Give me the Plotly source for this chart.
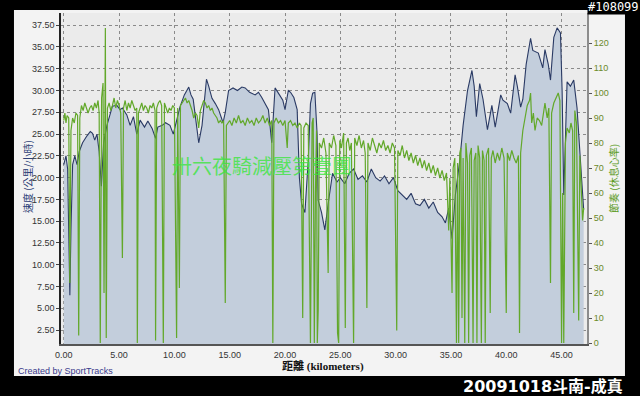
import plotly.graph_objects as go

# ---- Speed (km/h) vs distance (km) ----
speed_km = [0.0,0.2,0.35,0.45,0.55,0.65,0.8,1.0,1.2,1.4,1.7,2.1,2.4,2.6,2.8,3.0,3.2,3.4,3.6,3.9,
            4.2,4.4,4.8,5.1,5.3,5.7,6.0,6.3,6.6,6.9,7.3,7.6,8.0,8.3,8.5,8.9,9.2,9.6,9.9,10.2,
            10.5,10.9,11.3,11.5,11.7,11.9,12.2,12.5,12.9,13.1,13.4,13.7,14.0,14.4,14.6,14.9,15.3,15.7,16.1,16.4,
            16.8,17.3,17.6,17.9,18.2,18.5,18.8,19.1,19.5,19.8,20.0,20.3,20.5,20.8,21.1,21.3,21.5,21.8,22.1,22.3,
            22.5,22.7,22.9,23.0,23.3,23.6,23.9,24.3,24.7,25.0,25.4,25.8,26.2,26.6,27.0,27.4,27.8,28.2,28.6,29.0,
            29.4,29.8,30.2,30.6,31.0,31.4,31.8,32.2,32.6,33.0,33.4,33.8,34.2,34.5,34.8,35.1,35.4,35.8,36.1,36.5,
            36.9,37.1,37.3,37.6,37.9,38.3,38.7,39.0,39.5,39.7,40.1,40.4,40.8,41.0,41.3,41.5,41.8,42.2,42.4,42.9,
            43.3,43.5,43.8,44.0,44.3,44.6,44.9,45.05,45.2,45.5,45.8,46.1,46.2,46.4,46.6,46.8,47.0]
speed_kmh = [21.5,22.5,21.0,12.0,6.5,14.0,21.5,22.5,21.5,23.0,24.0,24.8,25.3,25.1,24.3,25.0,23.0,19.0,24.0,26.0,
             27.5,28.2,28.3,27.8,28.0,27.2,26.0,27.0,25.0,26.6,25.8,26.5,25.6,24.5,25.8,26.0,26.3,26.0,25.0,26.5,
             28.1,29.5,30.4,29.5,29.0,27.0,24.0,26.0,31.3,30.5,29.1,28.5,27.8,26.3,27.5,30.0,30.3,30.0,30.4,30.3,
             29.8,29.5,29.8,29.2,28.5,27.8,24.0,30.3,29.5,28.9,27.8,30.0,29.8,29.2,27.8,20.0,17.0,16.0,22.0,28.5,
             29.7,29.8,25.0,17.4,16.0,14.0,17.0,20.5,19.5,20.0,19.3,20.5,21.0,19.8,20.2,19.5,21.0,20.0,19.6,20.2,
             19.3,20.0,18.5,18.0,17.5,18.2,17.0,16.8,17.5,16.5,17.2,16.0,15.5,14.8,16.5,13.0,18.0,22.0,26.0,30.0,
             32.3,30.5,27.0,30.8,29.0,25.5,28.3,25.8,29.5,28.9,28.5,27.4,31.8,30.5,28.1,29.0,33.0,36.0,34.6,34.3,
             32.6,34.7,33.0,31.2,36.1,37.2,36.6,30.0,18.0,31.0,30.5,31.2,30.0,28.0,24.0,20.0,16.3]

# ---- Cadence vs distance (km) ----
cad_km = [0.0,0.1,0.2,0.3,0.45,0.55,0.65,0.8,0.95,1.1,1.25,1.35,1.45,1.6,1.75,1.9,2.05,2.2,2.35,2.5,
          2.65,2.8,2.95,3.1,3.2,3.3,3.42,3.55,3.64,3.7,3.76,3.84,3.95,4.1,4.25,4.4,4.55,4.7,4.85,5.0,
          5.15,5.3,5.4,5.55,5.7,5.85,6.0,6.15,6.3,6.45,6.6,6.65,6.75,6.9,7.05,7.2,7.35,7.5,7.65,7.8,
          7.95,8.1,8.25,8.3,8.4,8.55,8.7,8.85,9.0,9.1,9.25,9.4,9.55,9.7,9.85,10.0,10.2,10.3,10.45,10.55,
          10.7,10.85,11.0,11.15,11.3,11.45,11.6,11.75,11.9,12.05,12.2,12.35,12.5,12.65,12.8,12.95,13.1,13.25,13.4,13.55,
          13.7,13.85,14.0,14.15,14.3,14.45,14.6,14.7,14.85,15.0,15.2,15.4,15.6,15.8,16.0,16.2,16.4,16.6,16.8,17.0,
          17.2,17.4,17.6,17.8,18.0,18.2,18.4,18.6,18.8,18.9,19.0,19.2,19.4,19.6,19.8,20.0,20.2,20.3,20.5,20.7,
          20.9,21.1,21.3,21.45,21.6,21.7,21.9,22.1,22.3,22.45,22.55,22.65,22.75,22.85,22.92,23.0,23.1,23.3,23.5,23.7,
          23.9,24.0,24.2,24.4,24.6,24.75,24.85,24.95,25.1,25.3,25.45,25.55,25.7,25.85,26.0,26.2,26.3,26.5,26.7,26.9,
          27.1,27.25,27.4,27.5,27.7,27.9,28.1,28.3,28.5,28.7,28.9,29.1,29.3,29.5,29.7,29.9,30.1,30.2,30.4,30.6,
          30.8,31.0,31.2,31.4,31.6,31.8,32.0,32.2,32.4,32.6,32.8,33.0,33.2,33.4,33.6,33.8,34.0,34.2,34.4,34.6,
          34.8,34.9,35.1,35.2,35.35,35.5,35.6,35.7,35.8,35.9,36.0,36.1,36.25,36.35,36.5,36.6,36.7,36.85,37.0,37.1,
          37.25,37.35,37.45,37.6,37.75,37.85,38.0,38.1,38.2,38.4,38.55,38.65,38.8,39.0,39.2,39.4,39.6,39.8,40.0,40.1,
          40.3,40.5,40.7,40.9,41.1,41.2,41.3,41.5,41.7,41.9,42.1,42.2,42.3,42.45,42.6,42.8,43.0,43.2,43.4,43.5,
          43.7,43.85,44.0,44.1,44.3,44.5,44.7,44.85,45.0,45.1,45.2,45.35,45.5,45.7,45.85,46.0,46.1,46.2,46.35,46.55,
          46.65,46.8,46.9,47.0]
cad_rpm = [89,92,88,91,90,24,85,90,88,92,91,3,90,95,93,96,94,92,94,95,
           93,96,94,97,92,0,98,104,20,96,126,2,94,96,93,95,98,94,97,95,
           92,34,94,97,93,96,94,97,95,93,94,0,92,94,96,93,95,94,92,95,
           94,96,93,1,94,96,97,95,0,96,94,92,94,93,95,94,2,94,22,95,
           96,97,98,96,97,95,93,90,92,91,86,93,95,97,96,94,95,93,94,92,
           91,90,88,89,88,89,16,87,88,89,87,90,88,91,88,89,87,90,88,89,
           87,90,88,89,91,88,90,87,89,0,88,90,88,89,87,89,78,88,89,87,
           88,86,88,87,10,86,88,87,0,88,90,0,60,85,0,13,80,78,82,76,
           28,80,78,83,79,4,0,81,78,84,6,80,82,77,80,0,82,79,83,78,
           81,76,14,80,77,82,79,76,80,78,81,77,79,76,80,78,5,77,75,79,
           74,77,73,76,72,75,71,74,70,73,69,72,68,71,67,70,66,69,65,68,
           45,66,20,70,74,0,72,0,76,78,10,74,0,80,72,0,75,78,0,73,
           76,0,79,74,0,77,73,0,75,78,12,74,77,72,76,73,78,74,12,76,
           73,77,74,72,75,4,76,85,90,95,97,100,88,92,85,90,89,87,93,96,
           90,94,24,92,96,98,100,97,0,60,0,80,86,84,88,85,12,93,88,9,
           75,60,49,54]

x_ticks = [0, 5, 10, 15, 20, 25, 30, 35, 40, 45]
x_tick_text = ["0.00", "5.00", "10.00", "15.00", "20.00", "25.00", "30.00", "35.00", "40.00", "45.00"]
speed_ticks = [2.5, 5, 7.5, 10, 12.5, 15, 17.5, 20, 22.5, 25, 27.5, 30, 32.5, 35, 37.5]
speed_tick_text = ["2.50", "5.00", "7.50", "10.00", "12.50", "15.00", "17.50", "20.00", "22.50",
                   "25.00", "27.50", "30.00", "32.50", "35.00", "37.50"]
cad_ticks = [0, 10, 20, 30, 40, 50, 60, 70, 80, 90, 100, 110, 120]

fig = go.Figure()
fig.add_trace(go.Scatter(x=speed_km, y=speed_kmh, mode="lines", fill="tozeroy",
                         line=dict(color="#2a3a64", width=1.1), fillcolor="#c3cedc",
                         hoverinfo="skip", showlegend=False))
fig.add_trace(go.Scatter(x=cad_km, y=cad_rpm, mode="lines", yaxis="y2",
                         line=dict(color="#62a82a", width=1.2),
                         hoverinfo="skip", showlegend=False))

tickfont = dict(family="Liberation Sans, Arial", size=9, color="#333333")
fig.update_layout(
    width=640, height=396,
    margin=dict(l=61, r=53, t=13, b=52),
    paper_bgcolor="black", plot_bgcolor="rgba(0,0,0,0)",
    xaxis=dict(range=[-0.25, 47.3], tickvals=x_ticks, ticktext=x_tick_text,
               showgrid=True, gridcolor="#8a8a8a", griddash="dot", gridwidth=1,
               zeroline=False, showline=True, linecolor="#555555", linewidth=1.5,
               ticks="outside", ticklen=1, tickcolor="rgba(0,0,0,0)", tickfont=tickfont),
    yaxis=dict(range=[0.9, 38.9], tickvals=speed_ticks, ticktext=speed_tick_text,
               showgrid=True, gridcolor="#8a8a8a", griddash="dot", gridwidth=1,
               zeroline=False, showline=True, linecolor="#222222", linewidth=1.5,
               ticks="outside", ticklen=3, tickcolor="#444", tickfont=tickfont),
    yaxis2=dict(range=[-0.4, 132.0], tickvals=cad_ticks, overlaying="y", side="right",
                showgrid=False, zeroline=False, showline=True, linecolor="#8c8c8c", linewidth=2,
                ticks="outside", ticklen=3, tickcolor="#555",
                tickfont=dict(family="Liberation Sans, Arial", size=9, color="#6b8a2a")),
    shapes=[
        dict(type="rect", xref="paper", yref="paper", x0=-0.0894, x1=1.0722, y0=-0.0967, y1=1.009,
             fillcolor="#f3f3f3", line=dict(width=0), layer="below"),
        dict(type="rect", xref="paper", yref="paper", x0=0, x1=1, y0=0, y1=1,
             fillcolor="#ebebeb", line=dict(width=0), layer="below"),
    ],
    annotations=[
        dict(text="速度 (公里/小時)", xref="paper", yref="paper", x=-0.0646, y=0.5045,
             textangle=-90, showarrow=False, xanchor="center", yanchor="middle",
             font=dict(family="Noto Sans CJK TC", size=10, color="#2e3f77")),
        dict(text="節奏 (休息心率)", xref="paper", yref="paper", x=1.0494, y=0.5015,
             textangle=-90, showarrow=False, xanchor="center", yanchor="middle",
             font=dict(family="Noto Sans CJK TC", size=10, color="#5a9a1a")),
        dict(text="<b>距離 (kilometers)</b>", xref="paper", yref="paper", x=0.498, y=-0.0665,
             showarrow=False, xanchor="center", yanchor="middle",
             font=dict(family="Liberation Serif, Noto Sans CJK TC", size=11, color="#111111")),
        dict(text="Created by SportTracks", xref="paper", yref="paper", x=-0.0856, y=-0.0815,
             showarrow=False, xanchor="left", yanchor="middle",
             font=dict(family="Liberation Sans, Arial", size=9, color="#3a3a8c")),
        dict(text="#108099", xref="paper", yref="paper", x=1.1008, y=1.0175,
             showarrow=False, xanchor="right", yanchor="middle", bgcolor="black", borderpad=0,
             font=dict(family="DejaVu Sans Mono", size=12, color="white")),
        dict(text="<b>20091018斗南-成真</b>", xref="paper", yref="paper", x=1.0722, y=-0.1269,
             showarrow=False, xanchor="right", yanchor="middle",
             font=dict(family="DejaVu Sans, Noto Sans CJK TC", size=16, color="white")),
        dict(text="卅六夜騎減壓第壹團", xref="paper", yref="paper", x=0.382, y=0.54,
             showarrow=False, xanchor="center", yanchor="middle",
             font=dict(family="Noto Sans CJK TC", size=20, color="rgba(60,230,60,0.8)")),
    ],
)

fig.write_html("out.html")
